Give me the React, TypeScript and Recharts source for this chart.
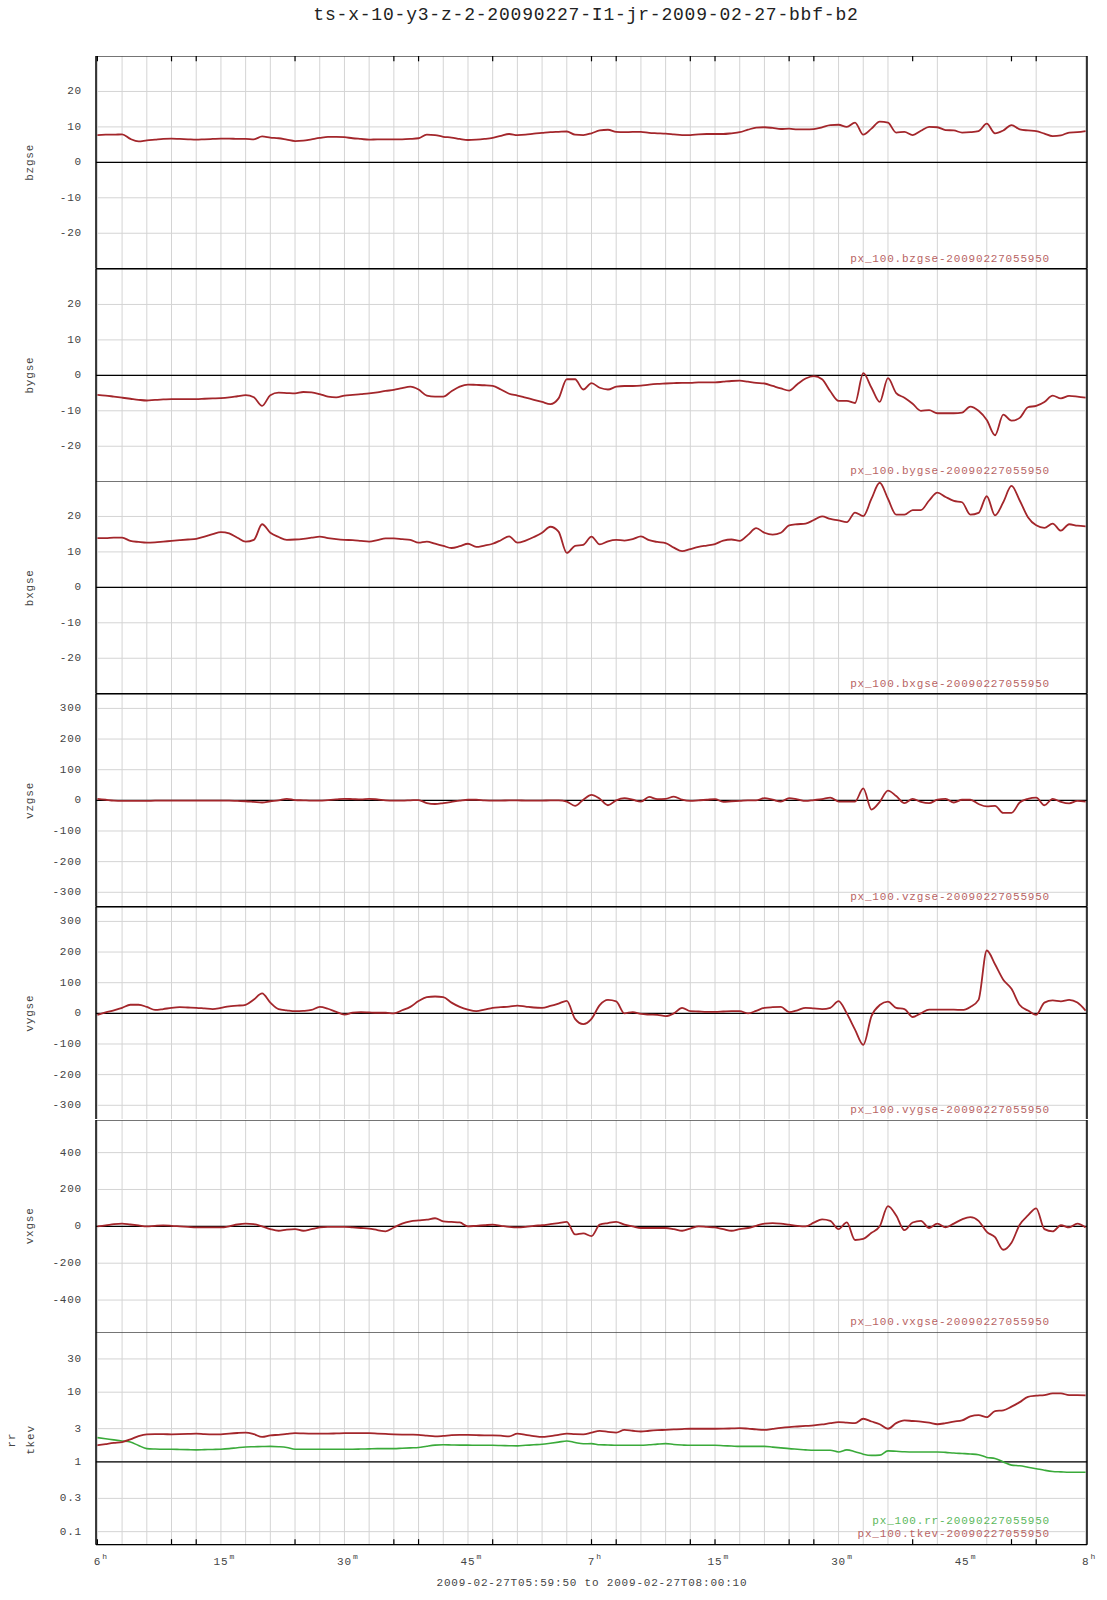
import React from "react";
import {
    LineChart,
    Line,
    XAxis,
    YAxis,
    CartesianGrid,
    ReferenceLine,
} from "recharts";

// time axis: minutes after 06:00
const minutes = Array.from({ length: 121 }, (_, i) => i);

const bzgse = [
    7.7, 7.8, 7.8, 7.9, 6.6, 5.9, 6.2, 6.4, 6.6, 6.7, 6.6, 6.5, 6.4, 6.5, 6.6, 6.7, 6.7, 6.6, 6.6, 6.5,
    7.3, 7.0, 6.8, 6.4, 6.0, 6.1, 6.5, 6.9, 7.2, 7.2, 7.1, 6.8, 6.6, 6.4, 6.5, 6.5, 6.5, 6.5, 6.6, 6.8,
    7.8, 7.7, 7.2, 7.0, 6.6, 6.3, 6.4, 6.6, 6.9, 7.5, 8.0, 7.7, 7.8, 8.1, 8.3, 8.5, 8.6, 8.7, 7.8, 7.7,
    8.2, 9.0, 9.2, 8.6, 8.5, 8.6, 8.6, 8.3, 8.2, 8.1, 7.9, 7.7, 7.7, 7.9, 8.0, 8.0, 8.0, 8.2, 8.5, 9.2,
    9.8, 9.9, 9.7, 9.4, 9.5, 9.3, 9.3, 9.4, 9.9, 10.5, 10.6, 10.0, 11.2, 7.8, 9.5, 11.5, 11.2, 8.4, 8.6, 7.7,
    8.9, 10.0, 9.9, 9.1, 9.0, 8.4, 8.5, 8.8, 10.9, 8.2, 9.0, 10.5, 9.3, 9.0, 8.8, 8.1, 7.4, 7.6, 8.4, 8.5,
    8.8,
];

const bygse = [
    -5.5, -5.7, -6.0, -6.3, -6.6, -6.9, -7.1, -6.9, -6.8, -6.7, -6.7, -6.7, -6.7, -6.6, -6.5, -6.4, -6.2, -5.9, -5.6, -6.2,
    -8.6, -5.6, -4.9, -5.0, -5.1, -4.7, -4.8, -5.3, -6.0, -6.2, -5.7, -5.5, -5.3, -5.1, -4.8, -4.4, -4.1, -3.6, -3.2, -4.0,
    -5.7, -6.0, -6.0, -4.5, -3.2, -2.6, -2.7, -2.8, -3.0, -4.0, -5.2, -5.7, -6.3, -6.9, -7.5, -8.1, -6.5, -1.1, -1.1, -4.0,
    -2.2, -3.5, -4.0, -3.2, -3.0, -3.0, -2.9, -2.6, -2.4, -2.3, -2.2, -2.1, -2.1, -2.0, -2.0, -2.0, -1.8, -1.6, -1.5, -1.8,
    -2.1, -2.3, -3.0, -3.7, -4.3, -2.5, -0.9, -0.2, -1.1, -4.5, -7.2, -7.2, -7.8, 0.6, -3.5, -7.5, -0.8, -5.0, -6.3, -8.0,
    -10.0, -9.8, -10.7, -10.7, -10.7, -10.5, -8.8, -10.0, -12.6, -16.9, -11.1, -12.8, -12.0, -9.0, -8.6, -7.5, -5.7, -6.5, -5.8, -6.0,
    -6.3,
];

const bxgse = [
    13.9, 13.9, 14.0, 14.0, 13.1, 12.8, 12.6, 12.7, 12.9, 13.1, 13.3, 13.5, 13.7, 14.3, 15.0, 15.6, 15.2, 14.0, 12.9, 13.4,
    17.8, 15.4, 14.2, 13.4, 13.5, 13.7, 14.0, 14.3, 13.9, 13.6, 13.4, 13.3, 13.1, 12.9, 13.3, 13.8, 13.8, 13.6, 13.4, 12.6,
    12.9, 12.3, 11.7, 11.1, 11.6, 12.3, 11.4, 11.8, 12.3, 13.3, 14.4, 12.6, 13.2, 14.2, 15.4, 17.1, 15.7, 9.7, 11.7, 12.0,
    14.3, 12.1, 13.0, 13.4, 13.2, 13.6, 14.4, 13.3, 12.8, 12.5, 11.2, 10.2, 10.8, 11.4, 11.8, 12.2, 13.2, 13.5, 13.1, 14.8,
    16.7, 15.4, 14.9, 15.4, 17.5, 17.8, 18.0, 19.0, 20.0, 19.3, 18.9, 18.4, 21.1, 20.1, 25.0, 29.5, 25.0, 20.5, 20.5, 21.8,
    21.8, 24.5, 26.7, 25.5, 24.4, 24.0, 20.5, 21.0, 25.7, 20.3, 24.0, 28.6, 24.5, 19.8, 17.5, 16.8, 18.0, 16.0, 17.8, 17.4,
    17.2,
];

const vzgse = [
    5, 2, -1, -2, -2, -2, -2, -1, -1, -1, -1, -1, -1, -1, -1, -1, -1, -2, -3, -5,
    -7, -3, 0, 5, 1, 0, -1, -1, 1, 3, 5, 4, 3, 5, 3, 0, -1, -1, 0, 1,
    -9, -12, -9, -5, -1, 2, 2, 0, -1, -1, 0, 0, -1, -1, -1, 0, 0, -4, -18, 2,
    18, 5, -16, 0, 7, 2, -4, 11, 4, 5, 12, 2, -2, 0, 2, 4, -5, -3, -2, 0,
    0, 7, 2, -4, 7, 3, -2, 1, 4, 9, -4, -4, -4, 39, -30, -5, 32, 14, -9, 5,
    -5, -9, 2, 5, -7, 2, 2, -12, -20, -18, -41, -41, -7, 5, 9, -16, 5, -5, -10, -2,
    -4,
];

const vygse = [
    -5, 3, 10, 18, 28, 28, 21, 11, 14, 18, 20, 19, 18, 16, 14, 18, 23, 25, 28, 45,
    65, 35, 14, 10, 7, 8, 11, 21, 15, 5, -4, 2, 4, 3, 2, 2, 0, 10, 21, 40,
    53, 55, 53, 35, 21, 12, 7, 12, 18, 20, 22, 25, 22, 19, 18, 24, 32, 41, -18, -35,
    -18, 27, 44, 39, 0, 4, -2, -4, -5, -9, 0, 18, 7, 6, 5, 5, 6, 7, 7, 0,
    8, 18, 20, 21, 4, 10, 18, 16, 14, 18, 40, 0, -53, -103, -9, 27, 38, 18, 14, -12,
    0, 12, 12, 12, 12, 11, 21, 44, 205, 160, 110, 80, 27, 9, -5, 35, 42, 39, 44, 35,
    9,
];

const vxgse = [
    0, 5, 12, 15, 10, 5, 0, 3, 5, 3, 0, -3, -6, -6, -6, -6, 0, 10, 15, 12,
    0, -15, -24, -18, -15, -24, -15, -6, -3, -3, -3, -6, -9, -12, -20, -27, -6, 15, 27, 32,
    36, 44, 27, 24, 21, 0, 3, 6, 9, 3, -3, -6, -3, 3, 6, 12, 18, 24, -44, -38,
    -53, 9, 18, 24, 9, 0, -9, -9, -9, -9, -15, -24, -12, 0, -3, -6, -15, -24, -15, -9,
    3, 15, 18, 15, 9, 3, 0, 20, 38, 30, -15, 21, -74, -68, -35, 0, 110, 59, -21, 21,
    30, -9, 15, -6, 15, 38, 50, 30, -30, -59, -127, -89, 9, 59, 98, -15, -27, 6, -6, 15,
    -6,
];

const tkev = [
    1.73, 1.8, 1.87, 1.93, 2.1, 2.35, 2.49, 2.5, 2.5, 2.49, 2.5, 2.52, 2.54, 2.5, 2.48, 2.49, 2.55, 2.6, 2.63, 2.5,
    2.28, 2.4, 2.45, 2.52, 2.58, 2.56, 2.55, 2.54, 2.55, 2.56, 2.58, 2.58, 2.58, 2.58, 2.55, 2.52, 2.49, 2.47, 2.46, 2.45,
    2.38, 2.32, 2.36, 2.42, 2.45, 2.44, 2.42, 2.4, 2.4, 2.38, 2.32, 2.54, 2.45, 2.35, 2.28, 2.35, 2.45, 2.54, 2.5, 2.49,
    2.63, 2.78, 2.7, 2.63, 2.88, 2.8, 2.73, 2.8, 2.85, 2.88, 2.92, 2.96, 2.99, 2.99, 2.99, 2.99, 3.0, 3.02, 3.05, 3.0,
    2.93, 2.88, 2.98, 3.08, 3.16, 3.22, 3.28, 3.34, 3.45, 3.6, 3.72, 3.65, 3.59, 4.16, 3.8, 3.47, 2.99, 3.6, 3.94, 3.86,
    3.79, 3.65, 3.47, 3.6, 3.79, 3.94, 4.5, 4.7, 4.39, 5.37, 5.5, 6.2, 7.2, 8.6, 8.9, 9.1, 9.6, 9.6, 9.1, 9.1,
    9.0,
];

const rr = [
    2.23, 2.15, 2.07, 2.0, 1.93, 1.72, 1.55, 1.53, 1.52, 1.52, 1.51, 1.5, 1.49, 1.5, 1.51, 1.52, 1.55, 1.6, 1.64, 1.65,
    1.66, 1.67, 1.65, 1.61, 1.52, 1.52, 1.52, 1.52, 1.52, 1.52, 1.52, 1.52, 1.53, 1.54, 1.55, 1.55, 1.55, 1.57, 1.59, 1.61,
    1.68, 1.74, 1.76, 1.75, 1.74, 1.74, 1.73, 1.73, 1.73, 1.72, 1.71, 1.7, 1.73, 1.76, 1.79, 1.85, 1.92, 2.0, 1.9, 1.82,
    1.83, 1.76, 1.75, 1.73, 1.73, 1.73, 1.73, 1.76, 1.8, 1.83, 1.78, 1.75, 1.73, 1.73, 1.73, 1.73, 1.71, 1.69, 1.67, 1.67,
    1.67, 1.67, 1.63, 1.59, 1.55, 1.52, 1.49, 1.47, 1.47, 1.47, 1.39, 1.49, 1.4, 1.29, 1.24, 1.25, 1.44, 1.42, 1.4, 1.39,
    1.39, 1.39, 1.39, 1.37, 1.34, 1.32, 1.3, 1.27, 1.16, 1.12, 1.0, 0.9, 0.88, 0.84, 0.8, 0.76, 0.73, 0.72, 0.71, 0.71,
    0.71,
];

const bTicks = [-30, -20, -10, 0, 10, 20];
const vTicks = [-300, -200, -100, 0, 100, 200, 300];
const vxTicks = [-400, -200, 0, 200, 400];
const logTicks = [0.1, 0.3, 1, 3, 10, 30];

const gridMinutes = Array.from({ length: 41 }, (_, i) => i * 3);
const xLabelMinutes = [0, 15, 30, 45, 60, 75, 90, 105, 120];
const xLabelNums = ["6", "15", "30", "45", "7", "15", "30", "45", "8"];
const xLabelSups = ["h", "m", "m", "m", "h", "m", "m", "m", "h"];
// small tick marks on the top and bottom frame
const frameTickMinutes = [0, 9, 12, 24, 36, 39, 48, 60, 63, 72, 75, 84, 87, 99, 111, 114];

const legendSuffix = "-20090227055950";

const rows = minutes.map((m, i) => ({
    m,
    bzgse: bzgse[i],
    bygse: bygse[i],
    bxgse: bxgse[i],
    vzgse: vzgse[i],
    vygse: vygse[i],
    vxgse: vxgse[i],
    tkev: tkev[i],
    rr: rr[i],
}));

const RED = "#a3262b";
const GREEN = "#3aaa3a";
const FONT = "'Liberation Mono', 'DejaVu Sans Mono', monospace";
const W = 1107;
const TOP = 56;
const PH = 212.7;
const X_DOMAIN: [number, number] = [-1 / 6, 120 + 1 / 6];

const panels = [
    { key: "bzgse", domain: [-30, 30], ticks: bTicks, zero: 0, log: false },
    { key: "bygse", domain: [-30, 30], ticks: bTicks, zero: 0, log: false },
    { key: "bxgse", domain: [-30, 30], ticks: bTicks, zero: 0, log: false },
    { key: "vzgse", domain: [-347, 347], ticks: vTicks, zero: 0, log: false },
    { key: "vygse", domain: [-347, 347], ticks: vTicks, zero: 0, log: false },
    { key: "vxgse", domain: [-577, 577], ticks: vxTicks, zero: 0, log: false },
    { key: "tkev", domain: [0.065, 73], ticks: logTicks, zero: 1, log: true },
];

const YTick = (props: any) => (
    <text
        x={82}
        y={props.y}
        textAnchor="end"
        dominantBaseline="central"
        fontFamily={FONT}
        fontSize={11}
        letterSpacing={0.8}
        fill="#444"
    >
        {props.payload.value}
    </text>
);

const XTick = (props: any) => {
    const i = xLabelMinutes.indexOf(props.payload.value);
    const num = xLabelNums[i];
    const baseY = 1565 - (TOP + 6 * PH);
    return (
        <g>
            <text
                x={props.x}
                y={baseY}
                textAnchor="middle"
                fontFamily={FONT}
                fontSize={11}
                letterSpacing={0.8}
                fill="#444"
            >
                {num}
            </text>
            <text
                x={props.x + num.length * 3.8 + 1}
                y={baseY - 6}
                fontFamily={FONT}
                fontSize={8}
                fill="#444"
            >
                {xLabelSups[i]}
            </text>
        </g>
    );
};

function Panel({ index }: { index: number }) {
    const p = panels[index];
    const first = index === 0;
    const last = index === panels.length - 1;
    const h = last ? PH + 60 : PH;
    return (
        <div
            style={{
                position: "absolute",
                left: 0,
                top: TOP + index * PH,
                width: W,
                height: h,
            }}
        >
            <LineChart
                width={W}
                height={h}
                data={rows}
                margin={{ top: 0, right: 20, bottom: 0, left: 0 }}
            >
                <CartesianGrid stroke="#d4d4d4" strokeWidth={1} />
                <XAxis
                    dataKey="m"
                    type="number"
                    domain={X_DOMAIN}
                    ticks={gridMinutes}
                    allowDataOverflow
                    hide
                />
                {last && (
                    <XAxis
                        xAxisId="lab"
                        dataKey="m"
                        type="number"
                        domain={X_DOMAIN}
                        ticks={xLabelMinutes}
                        allowDataOverflow
                        height={60}
                        axisLine={false}
                        tickLine={false}
                        tick={<XTick />}
                    />
                )}
                <YAxis
                    width={96}
                    domain={p.domain}
                    ticks={p.ticks}
                    scale={p.log ? "log" : "auto"}
                    allowDataOverflow
                    axisLine={{ stroke: "#000", strokeWidth: 1.5 }}
                    tickLine={false}
                    tick={<YTick />}
                />
                <ReferenceLine y={p.domain[0]} stroke="#000" strokeWidth={1.2} />
                <ReferenceLine y={p.domain[1]} stroke="#000" strokeWidth={1.2} />
                <ReferenceLine y={p.zero} stroke="#000" strokeWidth={1.2} />
                <ReferenceLine x={X_DOMAIN[1]} stroke="#000" strokeWidth={1.5} />
                {first &&
                    frameTickMinutes.map((t) => (
                        <ReferenceLine
                            key={"t" + t}
                            segment={[
                                { x: t, y: 30 },
                                { x: t, y: 28.5 },
                            ]}
                            stroke="#000"
                            strokeWidth={1.2}
                        />
                    ))}
                {last &&
                    frameTickMinutes.map((t) => (
                        <ReferenceLine
                            key={"b" + t}
                            segment={[
                                { x: t, y: 0.065 },
                                { x: t, y: 0.078 },
                            ]}
                            stroke="#000"
                            strokeWidth={1.2}
                        />
                    ))}
                {last && (
                    <Line
                        type="monotone"
                        dataKey="rr"
                        stroke={GREEN}
                        strokeWidth={1.6}
                        dot={false}
                        isAnimationActive={false}
                    />
                )}
                <Line
                    type="monotone"
                    dataKey={p.key}
                    stroke={RED}
                    strokeWidth={1.8}
                    dot={false}
                    isAnimationActive={false}
                />
            </LineChart>
        </div>
    );
}

export default function App() {
    const textStyle = {
        fontFamily: FONT,
        fontSize: 11,
        letterSpacing: 0.8,
    };
    return (
        <div
            style={{
                position: "absolute",
                left: 0,
                top: 0,
                width: W,
                height: 1600,
                background: "#fff",
                overflow: "hidden",
            }}
        >
            {panels.map((p, i) => (
                <Panel key={p.key} index={i} />
            ))}
            <svg
                width={W}
                height={1600}
                style={{ position: "absolute", left: 0, top: 0, pointerEvents: "none" }}
            >
                <text
                    x={586}
                    y={20}
                    textAnchor="middle"
                    fontFamily={FONT}
                    fontSize={18}
                    letterSpacing={0.8}
                    fill="#222"
                >
                    ts-x-10-y3-z-2-20090227-I1-jr-2009-02-27-bbf-b2
                </text>
                {panels.slice(0, 6).map((p, i) => {
                    const mid = TOP + i * PH + PH / 2;
                    const bottom = TOP + (i + 1) * PH;
                    return (
                        <g key={p.key}>
                            <text
                                x={30}
                                y={mid}
                                transform={`rotate(-90 30 ${mid})`}
                                textAnchor="middle"
                                dominantBaseline="central"
                                fill="#444"
                                {...textStyle}
                            >
                                {p.key}
                            </text>
                            <text
                                x={1050}
                                y={bottom - 7}
                                textAnchor="end"
                                fill="#b86464"
                                {...textStyle}
                            >
                                {"px_100." + p.key + legendSuffix}
                            </text>
                        </g>
                    );
                })}
                <text
                    x={12}
                    y={1440}
                    transform="rotate(-90 12 1440)"
                    textAnchor="middle"
                    dominantBaseline="central"
                    fill="#444"
                    {...textStyle}
                >
                    rr
                </text>
                <text
                    x={31}
                    y={1440}
                    transform="rotate(-90 31 1440)"
                    textAnchor="middle"
                    dominantBaseline="central"
                    fill="#444"
                    {...textStyle}
                >
                    tkev
                </text>
                <text x={1050} y={1524} textAnchor="end" fill="#5cb85c" {...textStyle}>
                    {"px_100.rr" + legendSuffix}
                </text>
                <text x={1050} y={1537} textAnchor="end" fill="#b86464" {...textStyle}>
                    {"px_100.tkev" + legendSuffix}
                </text>
                <text
                    x={592}
                    y={1586}
                    textAnchor="middle"
                    fill="#444"
                    {...textStyle}
                >
                    2009-02-27T05:59:50 to 2009-02-27T08:00:10
                </text>
            </svg>
        </div>
    );
}
